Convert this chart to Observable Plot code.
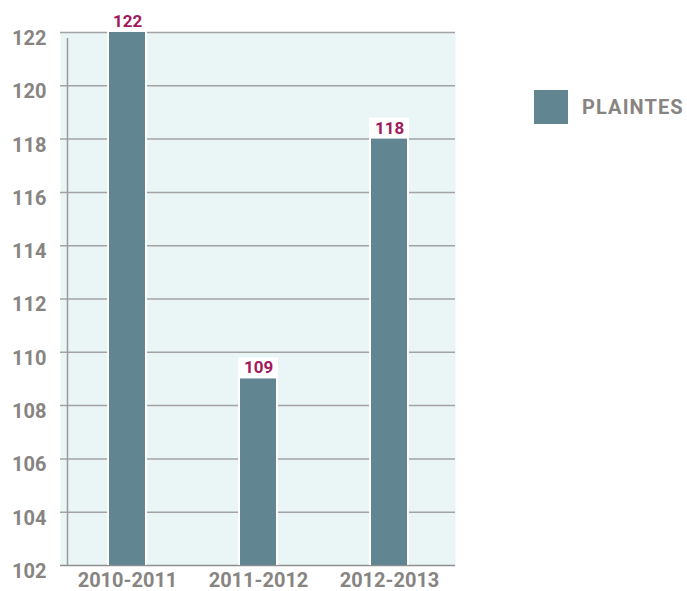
<!DOCTYPE html>
<html>
<head>
<meta charset="utf-8">
<script src="https://cdn.jsdelivr.net/npm/d3@7"></script>
<script src="https://cdn.jsdelivr.net/npm/@observablehq/plot@0.6"></script>
<style>
  html, body { margin: 0; padding: 0; background: #fff; }
  #wrap { position: relative; width: 687px; height: 591px; }
  #legend { position: absolute; left: 534px; top: 90px; display: flex; align-items: center;
    font-family: Roboto, sans-serif; font-weight: 700; font-size: 20px; color: #878482; letter-spacing: 1.1px; }
  #legend .sw { width: 34px; height: 34px; background: #618691; margin-right: 14px; }
  svg { display: block; }
</style>
</head>
<body>
<div id="wrap">
  <div id="chart"></div>
  <div id="legend"><div class="sw"></div><span id="legend-label"></span></div>
</div>
<script>
const periods = ["2010-2011", "2011-2012", "2012-2013"];
const plaintes = [122, 109, 118];
const yTicks = [102, 104, 106, 108, 110, 112, 114, 116, 118, 120, 122];
const seriesName = "PLAINTES";

const yMin = yTicks[0];
const yMax = yTicks[yTicks.length - 1];
const data = periods.map((p, i) => ({period: p, value: plaintes[i], base: yMin}));

const barColor = "#618691";
const labelColor = "#a2195b";
const textColor = "#878482";
const gridColor = "#a3a3a3";

const chart = Plot.plot({
  width: 687,
  height: 591,
  marginLeft: 60,
  marginRight: 232,
  marginTop: 32,
  marginBottom: 26,
  style: {fontFamily: "Roboto, sans-serif", background: "transparent"},
  x: {domain: periods, paddingInner: 0.726, paddingOuter: 0.363, label: null},
  y: {domain: [yMin, yMax], label: null, ticks: yTicks},
  marks: [
    Plot.frame({fill: "#eaf5f5", stroke: null}),
    Plot.ruleY(yTicks.slice(1), {stroke: gridColor, strokeWidth: 1.5}),
    Plot.ruleY([yMin], {stroke: "#8f8f8f", strokeWidth: 1.5}),
    Plot.ruleX([periods[0]], {dx: -60, y1: yMin, y2: yMax, insetBottom: -6, stroke: "#9a9a9a", strokeWidth: 1.5}),
    // white outline and label box
    Plot.barY(data, {x: "period", y1: "base", y2: "value", fill: "white", insetTop: -21, insetLeft: -2, insetRight: -2}),
    Plot.barY(data, {x: "period", y1: "base", y2: "value", fill: barColor}),
    Plot.text(data, {x: "period", y: "value", text: d => String(d.value), dy: -11, fill: labelColor,
      fontSize: 17, fontWeight: 700, letterSpacing: "0.5px"}),
    Plot.axisY({ticks: yTicks, tickSize: 0, tickPadding: 14, dy: 6, fontSize: 20, fontWeight: 700, fill: textColor, letterSpacing: "0.6px", tickFormat: d => String(d)}),
    Plot.axisX({tickSize: 0, tickPadding: 7, fontSize: 20, fontWeight: 700, fill: textColor, letterSpacing: "1.2px"})
  ]
});
document.getElementById("chart").appendChild(chart);
document.getElementById("legend-label").textContent = seriesName;
</script>
</body>
</html>
